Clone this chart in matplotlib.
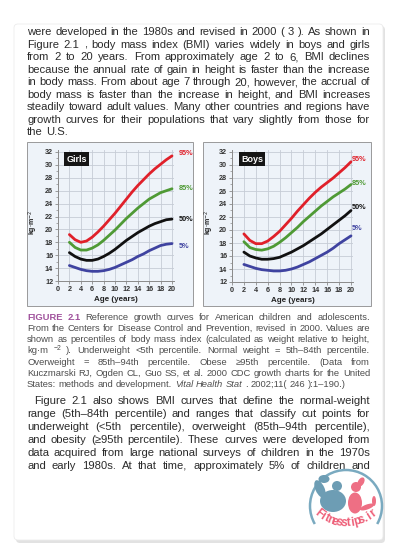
import matplotlib
matplotlib.use('Agg')
import matplotlib.pyplot as plt
from matplotlib.patches import Rectangle, Circle, Ellipse, Arc, FancyBboxPatch
import numpy as np

# Tamanho da página em pixels (dpi 100)
W, H = 400, 553
FAM = ['Liberation Sans', 'DejaVu Sans']
plt.rcParams['font.family'] = FAM

# Dados das curvas de crescimento (IMC, kg/m2)
ages = [2, 3, 4, 5, 6, 7, 8, 9, 10, 11, 12, 13, 14, 15, 16, 17, 18, 19, 20]
girls_p95 = [19.2, 18.4, 18.0, 18.2, 18.8, 19.6, 20.5, 21.5, 22.5, 23.6, 24.7, 25.8, 26.8, 27.7, 28.6, 29.4, 30.1, 30.8, 31.4]
girls_p85 = [18.0, 17.2, 16.8, 16.8, 17.1, 17.6, 18.3, 19.1, 19.9, 20.8, 21.7, 22.5, 23.3, 24.0, 24.7, 25.2, 25.7, 26.0, 26.3]
girls_p50 = [16.4, 15.8, 15.4, 15.2, 15.2, 15.4, 15.8, 16.3, 16.9, 17.6, 18.3, 18.9, 19.5, 20.0, 20.5, 20.9, 21.2, 21.5, 21.6]
girls_p5 = [14.4, 14.1, 13.8, 13.6, 13.5, 13.5, 13.6, 13.8, 14.1, 14.5, 14.9, 15.3, 15.8, 16.2, 16.7, 17.1, 17.5, 17.7, 17.8]
boys_p95 = [19.4, 18.4, 17.9, 17.9, 18.3, 19.0, 19.8, 20.8, 21.8, 22.9, 23.9, 24.9, 25.8, 26.6, 27.3, 28.0, 28.8, 29.6, 30.5]
boys_p85 = [18.2, 17.3, 17.0, 16.9, 17.1, 17.5, 18.1, 18.8, 19.6, 20.4, 21.3, 22.1, 22.9, 23.7, 24.4, 25.1, 25.7, 26.3, 27.0]
boys_p50 = [16.6, 16.0, 15.7, 15.5, 15.5, 15.6, 15.8, 16.2, 16.6, 17.1, 17.6, 18.2, 18.8, 19.4, 20.1, 20.8, 21.5, 22.2, 23.0]
boys_p5 = [14.7, 14.4, 14.1, 13.9, 13.8, 13.7, 13.7, 13.8, 14.0, 14.3, 14.7, 15.1, 15.6, 16.1, 16.6, 17.2, 17.9, 18.5, 19.1]

percentile_labels = ['95%', '85%', '50%', '5%']
girls_label_y = [31.8, 26.3, 21.6, 17.4]
boys_label_y = [30.8, 27.2, 23.5, 20.2]
line_colors = ['#e0202a', '#4f9a35', '#111111', '#3f43a0']
x_ticks = list(range(0, 21, 2))
y_ticks = list(range(12, 33, 2))

# Texto da página (quebras de linha iguais ao original)
# prefixos: § negrito roxo, _ itálico, ^ sobrescrito
paragraph_1 = [
    "were developed in the 1980s and revised in 2000 ( 3 ). As shown in",
    "Figure 2.1 , body mass index (BMI) varies widely in boys and girls",
    "from 2 to 20 years. From approximately age 2 to 6, BMI declines",
    "because the annual rate of gain in height is faster than the increase",
    "in body mass. From about age 7 through 20, however, the accrual of",
    "body mass is faster than the increase in height, and BMI increases",
    "steadily toward adult values. Many other countries and regions have",
    "growth curves for their populations that vary slightly from those for",
    "the U.S.",
]
caption_lines = [
    "§FIGURE §2.1 Reference growth curves for American children and adolescents.",
    "From the Centers for Disease Control and Prevention, revised in 2000. Values are",
    "shown as percentiles of body mass index (calculated as weight relative to height,",
    "kg·m ^−2 ). Underweight <5th percentile. Normal weight = 5th–84th percentile.",
    "Overweight = 85th–94th percentile. Obese ≥95th percentile. (Data from",
    "Kuczmarski RJ, Ogden CL, Guo SS, et al. 2000 CDC growth charts for the United",
    "States: methods and development. _Vital _Health _Stat . 2002;11( 246 ):1–190.)",
]
paragraph_2 = [
    "Figure 2.1 also shows BMI curves that define the normal-weight",
    "range (5th–84th percentile) and ranges that classify cut points for",
    "underweight (<5th percentile), overweight (85th–94th percentile),",
    "and obesity (≥95th percentile). These curves were developed from",
    "data acquired from large national surveys of children in the 1970s",
    "and early 1980s. At that time, approximately 5% of children and",
]

TEXT_COLOR = '#2b2b2b'
CAPTION_COLOR = '#4d4d4d'
PURPLE = '#a0529c'


def fx(px):
    return px / W


def fy(py):
    return 1 - py / H


fig = plt.figure(figsize=(W / 100, H / 100), dpi=100)
fig.patch.set_facecolor('white')

# Fundo: página com sombra e molduras dos gráficos (em pixels)
bg = fig.add_axes([0, 0, 1, 1], zorder=-10)
bg.set_xlim(0, W)
bg.set_ylim(H, 0)
bg.axis('off')
bg.add_patch(FancyBboxPatch((16, 26), 369, 517, boxstyle='round,pad=0,rounding_size=4',
                            fc='#e2e2e2', ec='none'))
bg.add_patch(FancyBboxPatch((14, 24), 369, 516, boxstyle='round,pad=0,rounding_size=4',
                            fc='white', ec='#ececec', lw=0.6))
bg.add_patch(Rectangle((27, 142), 166, 164, fc='#eef3f9', ec='#9a9a9a', lw=0.7))
bg.add_patch(Rectangle((203, 142), 168, 164, fc='#eef3f9', ec='#9a9a9a', lw=0.7))


def draw_chart(rect, series, label_x, label_y, title, ylab_px):
    ax = fig.add_axes(rect)
    ax.set_facecolor('none')
    for vals, lab, ly, c in zip(series, percentile_labels, label_y, line_colors):
        ax.plot(ages, vals, color=c, lw=2.0, solid_capstyle='round', clip_on=False)
        ax.text(label_x, ly, lab, color=c, fontsize=5.2, fontweight='bold',
                va='center', ha='left', clip_on=False)
    ax.set_xlim(0, 20.3)
    ax.set_ylim(12, 32.3)
    ax.set_xticks(x_ticks)
    ax.set_yticks(y_ticks)
    ax.set_yticks(range(13, 33, 2), minor=True)
    ax.grid(True, color='#c6ccd6', lw=0.6)
    ax.set_axisbelow(True)
    for s in ['top', 'right']:
        ax.spines[s].set_visible(False)
    for s in ['left', 'bottom']:
        ax.spines[s].set_color('#8a8a8a')
        ax.spines[s].set_linewidth(0.7)
    ax.tick_params(labelsize=5.2, colors='#8a8a8a', labelcolor='#333333',
                   length=2, width=0.6, pad=1.5)
    ax.tick_params(which='minor', length=1.2, width=0.5, colors='#8a8a8a')
    for t in ax.get_xticklabels() + ax.get_yticklabels():
        t.set_fontweight('bold')
    ax.set_xlabel('Age (years)', fontsize=5.8, fontweight='bold', color='#222222', labelpad=2)
    ax.text(1.5, 30.9, title, color='white', fontsize=6.5, fontweight='bold',
            va='center', ha='left',
            bbox=dict(boxstyle='square,pad=0.25', fc='#151515', ec='none'))
    fig.text(fx(ylab_px), fy(222), 'kg·m$^{-2}$', rotation=90, fontsize=5,
             fontweight='bold', color='#222222', ha='center', va='center')
    return ax


girls_rect = [fx(58), fy(281), 20.3 * 5.7 / W, 20.3 * 6.45 / H]
boys_rect = [fx(232), fy(282), 20.3 * 5.95 / W, 20.3 * 6.5 / H]
draw_chart(girls_rect, [girls_p95, girls_p85, girls_p50, girls_p5],
           21.1, girls_label_y, 'Girls', 33)
draw_chart(boys_rect, [boys_p95, boys_p85, boys_p50, boys_p5],
           20.1, boys_label_y, 'Boys', 209)

renderer = fig.canvas.get_renderer()


def parse(line):
    toks = []
    for w in line.split():
        st = ''
        if w[0] in '§_^':
            st, w = w[0], w[1:]
        toks.append((w, st))
    return toks


def make_words(line, size, color, base):
    em = size * 100 / 72
    arts = []
    for w, st in parse(line):
        kw = dict(fontsize=size, color=color, family=FAM, va='baseline', ha='left')
        dy = 0
        if st == '§':
            kw.update(fontweight='bold', color=PURPLE)
        elif st == '_':
            kw['style'] = 'italic'
        elif st == '^':
            kw['fontsize'] = size * 0.72
            dy = -0.4 * em
        arts.append(fig.text(0, fy(base + dy), w, **kw))
    return arts


# Maior tamanho de fonte em que todas as linhas justificadas cabem
def fit_size(lines, x0, x1, size, indent=0, last_justified=False):
    scale = 10.0
    for i, line in enumerate(lines):
        if i == len(lines) - 1 and not last_justified:
            continue
        arts = make_words(line, size, 'k', 0)
        widths = [a.get_window_extent(renderer).width for a in arts]
        for a in arts:
            a.remove()
        natural = sum(widths) + (len(arts) - 1) * size * 100 / 72 * 0.278
        left = x0 + (indent if i == 0 else 0)
        scale = min(scale, (x1 - left) / natural)
    return size * scale * 0.995


# Desenha um bloco de texto justificado palavra por palavra
def draw_text_block(lines, x0, x1, y0, step, color, size, indent=0, last_justified=False):
    em = size * 100 / 72
    space = em * 0.278
    for i, line in enumerate(lines):
        left = x0 + (indent if i == 0 else 0)
        base = y0 + i * step + 0.32 * em
        arts = make_words(line, size, color, base)
        widths = [a.get_window_extent(renderer).width for a in arts]
        is_last = (i == len(lines) - 1) and not last_justified
        if is_last or len(arts) == 1:
            gap = space
        else:
            gap = (x1 - left - sum(widths)) / (len(arts) - 1)
        x = left
        for a, w in zip(arts, widths):
            a.set_x(fx(x))
            x += w + gap


body_size = min(fit_size(paragraph_1, 27, 370, 8.0),
                fit_size(paragraph_2, 27, 370, 8.0, indent=7, last_justified=True))
caption_size = fit_size(caption_lines, 27, 370, 7.0)
draw_text_block(paragraph_1, 27, 370, 31.7, 12.5, TEXT_COLOR, body_size)
draw_text_block(caption_lines, 27, 370, 316.7, 11.2, CAPTION_COLOR, caption_size)
draw_text_block(paragraph_2, 27, 370, 400.5, 12.9, TEXT_COLOR, body_size,
                indent=7, last_justified=True)

# Marca d'água no canto inferior direito (coordenadas em pixels)
wm = fig.add_axes([0, 0, 1, 1], zorder=10)
wm.set_xlim(0, W)
wm.set_ylim(H, 0)
wm.axis('off')
cx, cy = 346, 506
wm.add_patch(Arc((cx, cy), 72, 72, theta1=150, theta2=390, color='#7aaac0', lw=1.8))
# figura azul (halterofilista)
blue = '#6d9db4'
wm.add_patch(Circle((337, 486), 5, fc=blue, ec='none'))
wm.add_patch(Ellipse((333, 501), 26, 22, fc=blue, ec='none'))
wm.add_patch(Ellipse((320, 489), 9, 19, angle=-25, fc=blue, ec='none'))
wm.add_patch(Ellipse((324, 479), 11, 8, fc=blue, ec='none'))
# figura rosa
pink = '#ee6f84'
wm.add_patch(Circle((356, 487), 5, fc=pink, ec='none'))
wm.add_patch(Ellipse((361, 482), 6, 10, angle=30, fc=pink, ec='none'))
wm.add_patch(Ellipse((355, 503), 14, 21, fc=pink, ec='none'))
wm.add_patch(Ellipse((367, 507), 15, 5, angle=-20, fc=pink, ec='none'))
wm.add_patch(Ellipse((374, 501), 4, 10, fc=pink, ec='none'))
# texto em arco
word = 'Fitnesstips.ir'
angles = np.linspace(np.radians(128), np.radians(52), len(word))
for ch, a in zip(word, angles):
    px = cx + 44 * np.cos(a)
    py = 479 + 44 * np.sin(a)
    wm.text(px, py, ch, color='#ee5f78', fontsize=8.5, fontweight='bold',
            ha='center', va='center', rotation=90 - np.degrees(a),
            family=['Liberation Sans Narrow', 'Liberation Sans'])

fig.savefig('out.png', dpi=100)
